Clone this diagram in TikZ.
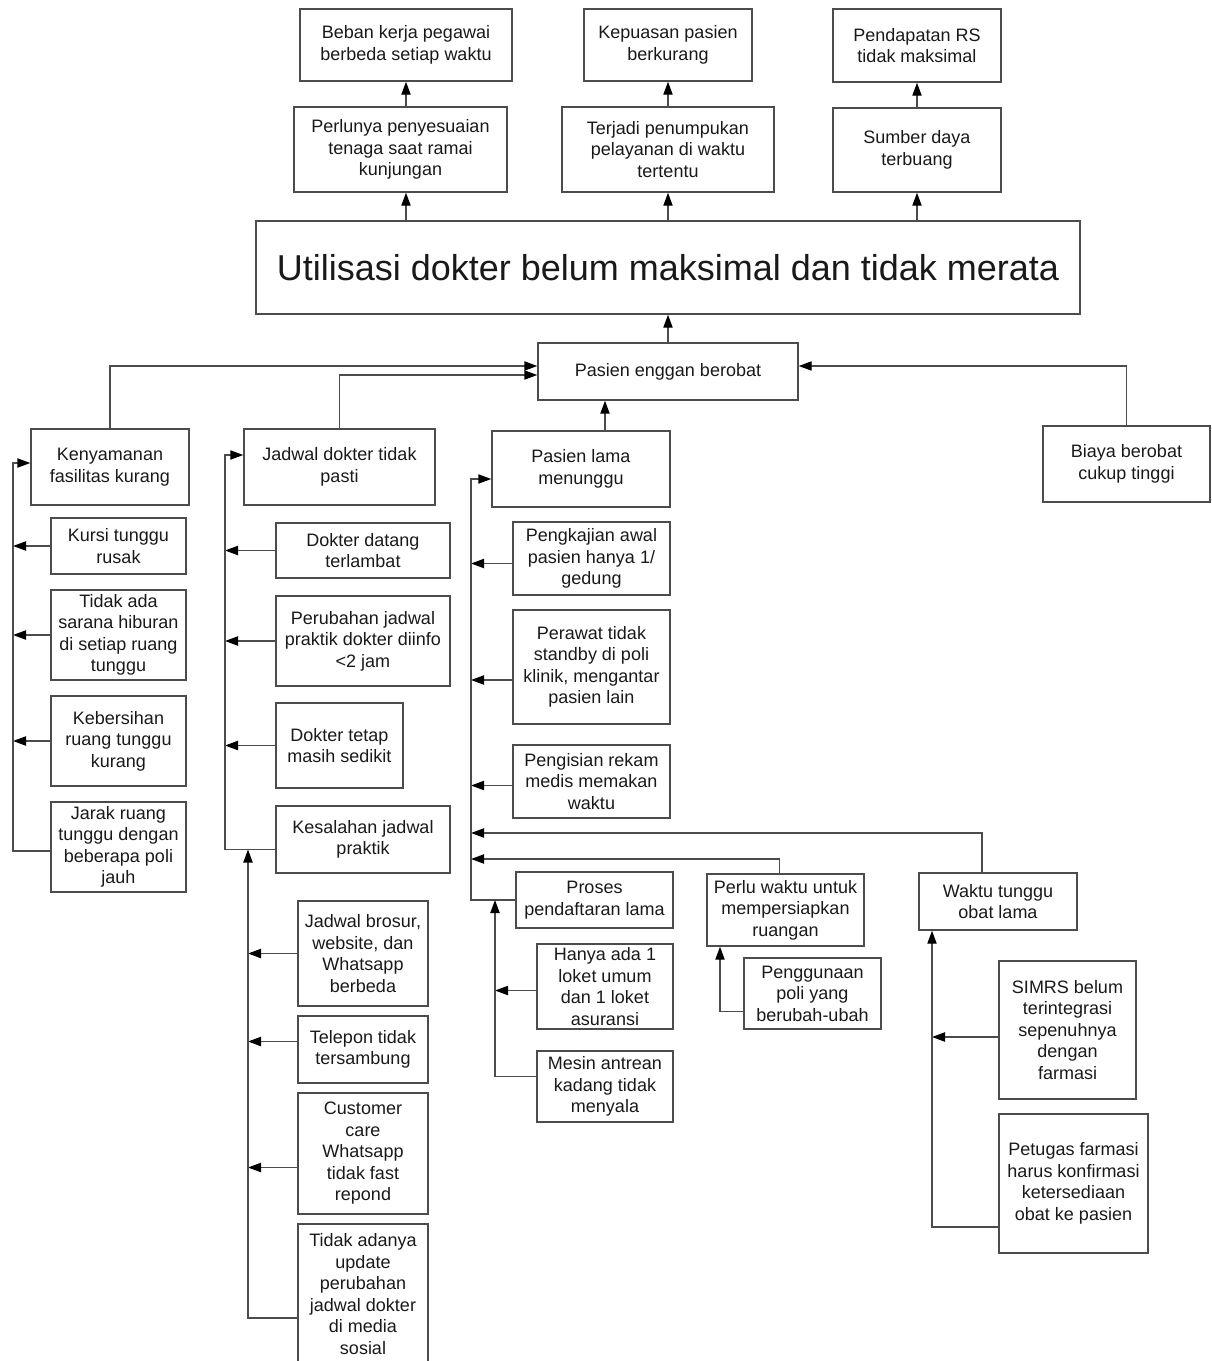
\documentclass[tikz,border=0pt]{standalone}
\usepackage{fontspec}
\setmainfont{Liberation Sans}
\usetikzlibrary{arrows.meta,calc}
\newcommand\bx[6]{\node[box,minimum width={(#4-#2)*0.5pt},minimum height={(#5-#3)*0.5pt}] (#1) at ({(#2+#4)/2},{(#3+#5)/2}) {#6};}
\begin{document}
\begin{tikzpicture}[x=0.5pt,y=-0.5pt,
  box/.style={draw=black!70,line width=0.7pt,inner sep=0pt,align=center,font=\fontsize{9}{10.75}\selectfont,text=black!90},
  arr/.style={draw=black!70,line width=0.7pt,-{Triangle[length=6.5pt,width=4.6pt,color=black]}},
  ln/.style={draw=black!70,line width=0.7pt}]
\useasboundingbox (0,0) rectangle (1211,1361);
% top
\bx{b1}{300}{9}{512}{81}{Beban kerja pegawai\\berbeda setiap waktu}
\bx{b2}{584}{9}{752}{81}{Kepuasan pasien\\berkurang}
\bx{b3}{833}{9}{1001}{82}{Pendapatan RS\\tidak maksimal}
\bx{c1}{294}{107}{507}{192}{Perlunya penyesuaian\\tenaga saat ramai\\kunjungan}
\bx{c2}{562}{107}{774}{192}{Terjadi penumpukan\\pelayanan di waktu\\tertentu}
\bx{c3}{833}{108}{1001}{192}{Sumber daya\\terbuang}
\node[box,font=\fontsize{18}{21}\selectfont,minimum width=412pt,minimum height=46.5pt] (title) at (668,267.5) {Utilisasi dokter belum maksimal dan tidak merata};
\bx{pas}{538}{343}{798}{400}{Pasien enggan berobat}
% level 2
\bx{ken}{31}{429}{189}{505}{Kenyamanan\\fasilitas kurang}
\bx{jad}{244}{429}{435}{505}{Jadwal dokter tidak\\pasti}
\bx{plm}{492}{431}{670}{507}{Pasien lama\\menunggu}
\bx{biaya}{1043}{426}{1210}{502}{Biaya berobat\\cukup tinggi}
% kenyamanan
\bx{kursi}{51}{518}{186}{574}{Kursi tunggu\\rusak}
\bx{hib}{51}{590}{186}{680}{Tidak ada\\sarana hiburan\\di setiap ruang\\tunggu}
\bx{keb}{51}{696}{186}{786}{Kebersihan\\ruang tunggu\\kurang}
\bx{jarak}{51}{802}{186}{892}{Jarak ruang\\tunggu dengan\\beberapa poli\\jauh}
% jadwal
\bx{dat}{276}{523}{450}{578}{Dokter datang\\terlambat}
\bx{per}{276}{596}{450}{686}{Perubahan jadwal\\praktik dokter diinfo\\<2 jam}
\bx{tet}{276}{703}{403}{788}{Dokter tetap\\masih sedikit}
\bx{kes}{276}{806}{450}{873}{Kesalahan jadwal\\praktik}
\bx{bro}{298}{901}{428}{1006}{Jadwal brosur,\\website, dan\\Whatsapp\\berbeda}
\bx{tel}{298}{1016}{428}{1083}{Telepon tidak\\tersambung}
\bx{cc}{298}{1093}{428}{1214}{Customer\\care\\Whatsapp\\tidak fast\\repond}
\bx{upd}{298}{1224}{428}{1364}{Tidak adanya\\update\\perubahan\\jadwal dokter\\di media\\sosial}
% pasien lama
\bx{peng}{513}{522}{670}{595}{Pengkajian awal\\pasien hanya 1/\\gedung}
\bx{pera}{513}{610}{670}{724}{Perawat tidak\\standby di poli\\klinik, mengantar\\pasien lain}
\bx{rek}{513}{745}{670}{818}{Pengisian rekam\\medis memakan\\waktu}
\bx{pro}{516}{872}{673}{928}{Proses\\pendaftaran lama}
\bx{han}{537}{944}{673}{1029}{Hanya ada 1\\loket umum\\dan 1 loket\\asuransi}
\bx{mes}{537}{1051}{673}{1122}{Mesin antrean\\kadang tidak\\menyala}
\bx{pw}{707}{874}{864}{946}{Perlu waktu untuk\\mempersiapkan\\ruangan}
\bx{pen}{744}{958}{881}{1029}{Penggunaan\\poli yang\\berubah-ubah}
\bx{wto}{919}{873}{1077}{930}{Waktu tunggu\\obat lama}
\bx{simrs}{999}{961}{1136}{1099}{SIMRS belum\\terintegrasi\\sepenuhnya\\dengan\\farmasi}
\bx{pet}{999}{1114}{1148}{1253}{Petugas farmasi\\harus konfirmasi\\ketersediaan\\obat ke pasien}
% helper coordinates
\coordinate (vk) at (13,0);
\coordinate (vj) at (225,0);
\coordinate (vs) at (248,0);
\coordinate (vp) at (471,0);
\coordinate (vq) at (495,0);
\coordinate (vr) at (720,0);
\coordinate (vw) at (932,0);
\coordinate (yw) at (0,833);
\coordinate (yp) at (0,859);
% top connectors
\draw[arr] (title.north -| b1) -- (c1.south -| b1);
\draw[arr] (c1.north -| b1) -- (b1.south);
\draw[arr] (title.north -| b2) -- (c2.south -| b2);
\draw[arr] (c2.north -| b2) -- (b2.south);
\draw[arr] (title.north -| b3) -- (c3.south -| b3);
\draw[arr] (c3.north -| b3) -- (b3.south);
\draw[arr] (pas.north) -- (pas.north |- title.south);
% into pasien enggan
\draw[arr] (ken.north) |- ([yshift=2.75pt]pas.west);
\draw[arr] (jad.north) |- ([yshift=-1.75pt]pas.west);
\draw[arr] (biaya.north) |- ([yshift=2.75pt]pas.east);
\draw[arr] ([xshift=12pt]plm.north) -- ([xshift=12pt]plm.north |- pas.south);
% kenyamanan column
\draw[arr] (kursi.west) -- (kursi.west -| vk);
\draw[arr] (hib.west) -- (hib.west -| vk);
\draw[arr] (keb.west) -- (keb.west -| vk);
\draw[arr] ([yshift=-2pt]jarak.west) -- ([yshift=-2pt]jarak.west -| vk) |- ([yshift=2pt]ken.west);
% jadwal column
\draw[arr] (dat.west) -- (dat.west -| vj);
\draw[arr] (per.west) -- (per.west -| vj);
\draw[arr] (tet.west) -- (tet.west -| vj);
\draw[arr] ([yshift=-5pt]kes.west) -- ([yshift=-5pt]kes.west -| vj) |- ([yshift=6pt]jad.west);
\draw[arr] (bro.west) -- (bro.west -| vs);
\draw[arr] ([yshift=4pt]tel.west) -- ([yshift=4pt]tel.west -| vs);
\draw[arr] ([yshift=-7pt]cc.west) -- ([yshift=-7pt]cc.west -| vs);
\draw[arr] ([yshift=-12pt]upd.west) -| ([yshift=-5pt]kes.west -| vs);
% pasien lama column
\draw[arr] ([yshift=-2.5pt]peng.west) -- ([yshift=-2.5pt]peng.west -| vp);
\draw[arr] ([yshift=-6.5pt]pera.west) -- ([yshift=-6.5pt]pera.west -| vp);
\draw[arr] ([yshift=-2pt]rek.west) -- ([yshift=-2pt]rek.west -| vp);
\draw[arr] ([xshift=-8pt]wto.north) |- (vp |- yw);
\draw[arr] ([xshift=-3pt]pw.north) |- (vp |- yp);
\draw[arr] (pro.west) -- (pro.west -| vp) |- ([yshift=-5pt]plm.west);
\draw[arr] ([yshift=-2pt]han.west) -- ([yshift=-2pt]han.west -| vq);
\draw[arr] ([yshift=5pt]mes.west) -| (pro.west -| vq);
\draw[arr] ([yshift=-9pt]pen.west) -| (pw.south -| vr);
\draw[arr] ([yshift=-3.5pt]simrs.west) -- ([yshift=-3.5pt]simrs.west -| vw);
\draw[arr] ([yshift=-21.75pt]pet.west) -| (wto.south -| vw);
\end{tikzpicture}
\end{document}
